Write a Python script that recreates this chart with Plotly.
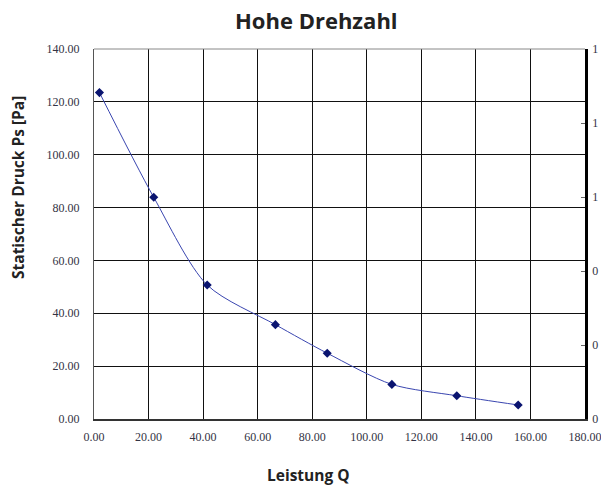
import plotly.graph_objects as go

# Data
leistung_q = [2.0, 21.9, 41.5, 66.5, 85.5, 109.2, 133.0, 155.5]
druck_ps = [123.5, 83.9, 50.7, 35.7, 24.9, 13.1, 8.8, 5.3]

x_ticks = [0, 20, 40, 60, 80, 100, 120, 140, 160, 180]
y_ticks = [0, 20, 40, 60, 80, 100, 120, 140]
right_tick_vals = [0, 1, 2, 3, 4, 5]
right_tick_labels = ["0", "0", "0", "1", "1", "1"]

title_text = "Hohe Drehzahl"
x_title = "Leistung Q"
y_title = "Statischer Druck Ps [Pa]"

fig = go.Figure()
fig.add_trace(go.Scatter(
    x=leistung_q, y=druck_ps, mode="lines+markers",
    line=dict(color="#3a46b0", width=1, shape="spline", smoothing=0.8),
    marker=dict(symbol="diamond", size=7, color="#0a1470"),
    showlegend=False,
))
# invisible trace for secondary axis
fig.add_trace(go.Scatter(x=[None], y=[None], yaxis="y2", showlegend=False))

serif = "Liberation Serif, DejaVu Serif, Times New Roman, serif"
tickfont = dict(family=serif, size=12, color="#333344")
titlefont = dict(family="Open Sans", size=15.5, color="#222222")
fig.update_layout(
    width=601, height=488,
    margin=dict(l=94, r=16, t=49, b=69, autoexpand=False),
    paper_bgcolor="white", plot_bgcolor="white",
    xaxis=dict(
        range=[0, 180], tickvals=x_ticks, tickformat=".2f", automargin=False,
        showgrid=True, gridcolor="#111111", gridwidth=1.2,
        showline=True, linecolor="#333333", linewidth=1.5,
        ticks="", tickfont=tickfont, zeroline=False, ticklabelstandoff=6,
        ticklabeloverflow="allow",
    ),
    yaxis=dict(
        range=[0, 140], tickvals=y_ticks, tickformat=".2f", automargin=False,
        showgrid=True, gridcolor="#111111", gridwidth=1.2,
        showline=True, linecolor="#555555", linewidth=1,
        ticks="", tickfont=tickfont, zeroline=False, ticklabelstandoff=11,
    ),
    yaxis2=dict(
        overlaying="y", side="right", range=[0, 5], automargin=False,
        tickvals=right_tick_vals, ticktext=right_tick_labels,
        showgrid=False, zeroline=False,
        showline=True, linecolor="#000000", linewidth=2.5,
        ticks="inside", ticklen=4, tickcolor="#666666",
        tickfont=tickfont, ticklabelstandoff=2, ticklabeloverflow="allow",
    ),
    annotations=[
        dict(text="<b>%s</b>" % title_text, xref="paper", yref="paper",
             x=(316 - 94) / 491, y=1 + (49 - 20) / 370, showarrow=False,
             xanchor="center", yanchor="middle",
             font=dict(family="Open Sans", size=22, color="#222222")),
        dict(text="<b>%s</b>" % x_title, xref="paper", yref="paper",
             x=(308 - 94) / 491, y=-(487 - 419) / 370, showarrow=False,
             xanchor="center", yanchor="bottom", borderpad=0, font=titlefont),
        dict(text="<b>%s</b>" % y_title, xref="paper", yref="paper",
             x=-(94 - 18) / 491, y=(419 - 188) / 370, showarrow=False, textangle=-90,
             xanchor="center", yanchor="middle", font=titlefont),
    ],
)
fig.add_shape(type="line", xref="paper", yref="paper", x0=0, x1=1, y0=1, y1=1,
              line=dict(color="#888888", width=1))
fig.write_html("out.html", config={"displayModeBar": False},
               post_script="document.body.style.margin='0';document.body.style.overflow='hidden';")
